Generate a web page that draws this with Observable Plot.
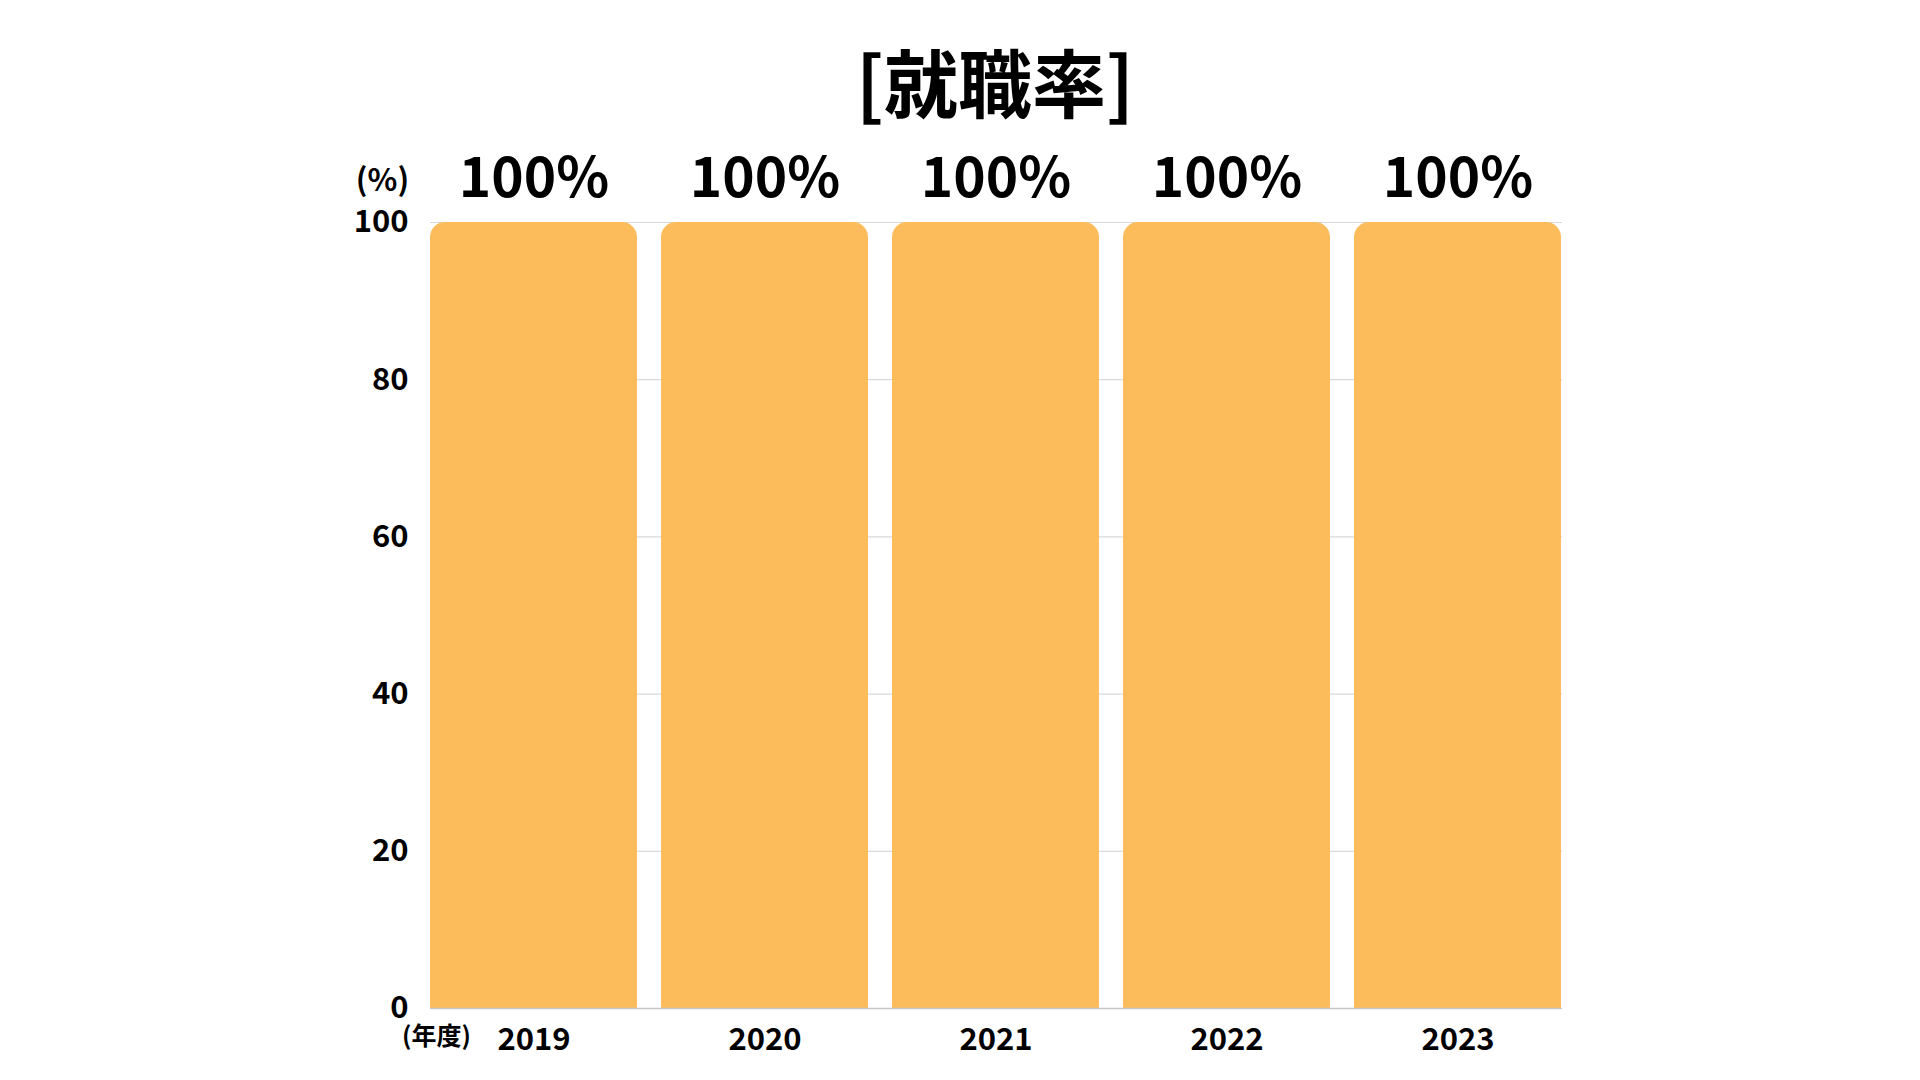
<!DOCTYPE html>
<html>
<head>
<meta charset="utf-8">
<script src="https://cdn.jsdelivr.net/npm/d3@7"></script>
<script src="https://cdn.jsdelivr.net/npm/@observablehq/plot@0.6"></script>
<style>
  html, body { margin: 0; padding: 0; background: #ffffff; }
  body { width: 1920px; height: 1080px; overflow: hidden; font-family: "Noto Sans CJK JP", "Noto Sans", sans-serif; }
  #title { height: 120px; display: flex; align-items: center; justify-content: center; font-size: 74px; line-height: 74px; font-weight: 700; color: #000; padding-top: 40px; box-sizing: border-box; padding-left: 70px; }
  #chart svg { display: block; overflow: visible; }
</style>
</head>
<body>
<div id="title">[就職率]</div>
<div id="chart"></div>
<script>
const years = ["2019", "2020", "2021", "2022", "2023"];
const rates = [100, 100, 100, 100, 100];
const yTicks = [0, 20, 40, 60, 80, 100];
const yUnit = "(%)";
const xUnit = "(年度)";

const data = years.map((year, i) => ({year, rate: rates[i]}));

const chart = Plot.plot({
  width: 1920,
  height: 960,
  marginTop: 102,
  marginBottom: 72,
  marginLeft: 430,
  marginRight: 358,
  style: {fontFamily: "'Noto Sans CJK JP', 'Noto Sans', sans-serif", fontWeight: 700, fontSize: "31px", color: "#000", background: "#fff"},
  x: {domain: years, paddingInner: 0.103, paddingOuter: 0, label: null},
  y: {domain: [0, 100], label: null},
  marks: [
    Plot.gridY(yTicks, {stroke: "#d9d9d9", strokeOpacity: 1, strokeWidth: 1.2}),
    Plot.barY(data, {x: "year", y: "rate", fill: "#fdbc5c", ry1: 15}),
    Plot.ruleY([0], {stroke: "#c8c8c8", strokeWidth: 1.5}),
    Plot.axisY(yTicks, {tickSize: 0, tickPadding: 22, label: null, fontSize: 31, fontWeight: 700, fill: "#000"}),
    Plot.axisX({tickSize: 0, tickPadding: 19, label: null, fontSize: 31, fontWeight: 700, fill: "#000"}),
    Plot.text(data, {x: "year", y: "rate", text: d => d.rate + "%", dy: -43, fontSize: 55, fontWeight: 700, fill: "#000"}),
    Plot.text([yUnit], {frameAnchor: "top-left", dx: -48, dy: -54, fontSize: 31, fontWeight: 700, fill: "#000", textAnchor: "middle"}),
    Plot.text([xUnit], {frameAnchor: "bottom-left", dx: 6, dy: 36, fontSize: 25, fontWeight: 700, fill: "#000", textAnchor: "middle"})
  ]
});
document.getElementById("chart").appendChild(chart);
</script>
</body>
</html>
